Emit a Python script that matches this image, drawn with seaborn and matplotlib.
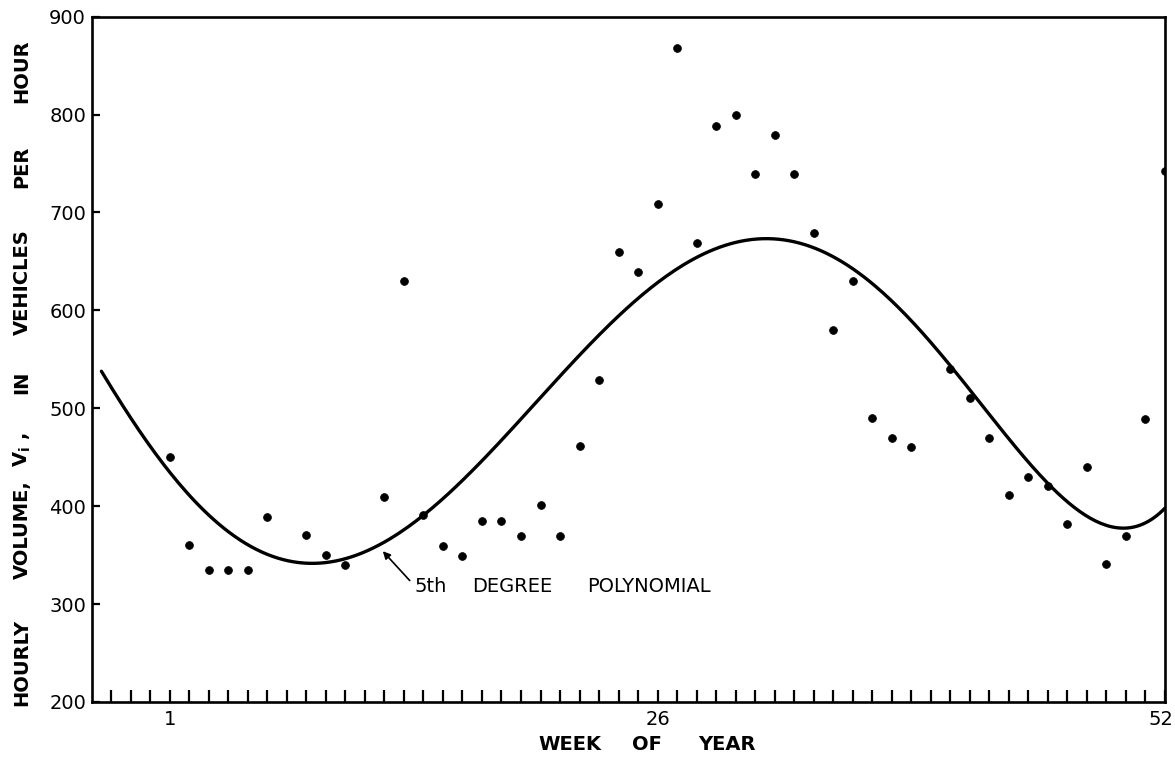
import numpy as np
import pandas as pd
import matplotlib
matplotlib.use("Agg")
import matplotlib.pyplot as plt
import matplotlib.transforms as mtransforms
import seaborn as sns

weeks = [1, 2, 3, 4, 5, 6, 8, 9, 10, 12, 13, 14, 15, 16, 17, 18, 19, 20, 21, 22,
         23, 24, 25, 26, 27, 28, 29, 30, 31, 32, 33, 34, 35, 36, 37, 38, 39, 41,
         42, 43, 44, 45, 46, 47, 48, 49, 50, 51, 52]
volumes = [450, 360, 335, 335, 335, 389, 371, 350, 340, 409, 630, 391, 359, 349,
           385, 385, 370, 401, 370, 461, 529, 660, 639, 709, 868, 669, 788, 800,
           739, 779, 739, 679, 580, 630, 490, 470, 460, 540, 510, 470, 411, 430,
           421, 382, 440, 341, 370, 489, 742]

# ---- points ----
curve_weeks = [-2.5, 1, 2.2, 5.4, 8.5, 9.9, 11.8, 14, 18.6, 21.3, 23.7, 25.8,
               28.9, 31.6, 34.7, 37.9, 41, 44.6, 46, 49.7, 52]
curve_values = [537, 437, 406, 355, 344, 346, 359, 391, 478, 539, 590, 628,
                662, 673, 658, 611, 542, 454, 422, 383, 395]

xtick_weeks = [1, 26, 52]
xtick_labels = ["1", "26", "52"]
ytick_values = [200, 300, 400, 500, 600, 700, 800, 900]

sns.set_theme(style="white")
plt.rcParams["font.family"] = ["DejaVu Sans"]
plt.rcParams["text.color"] = "black"
plt.rcParams["xtick.color"] = "black"
plt.rcParams["ytick.color"] = "black"

df = pd.DataFrame({"week": weeks, "volume": volumes})

poly = np.polynomial.Polynomial.fit(curve_weeks, curve_values, 5)
curve_x = np.linspace(curve_weeks[0], curve_weeks[-1], 400)
curve = pd.DataFrame({"week": curve_x, "volume": poly(curve_x)})

fig = plt.figure(figsize=(11.75, 7.57), dpi=100)
ax = fig.add_axes([0.078, 0.0727, 0.9135, 0.9053])

sns.lineplot(data=curve, x="week", y="volume", ax=ax, color="black", lw=2.4)
sns.scatterplot(data=df, x="week", y="volume", ax=ax, color="black", s=32,
                edgecolor="black", linewidth=0.5, zorder=3)

ax.set_xlim(-3, 52)
ax.set_ylim(200, 900)
ax.set_xticks(xtick_weeks)
ax.set_xticklabels(xtick_labels, fontsize=14)
ax.set_xticks(np.arange(-2, 52), minor=True)
ax.set_yticks(ytick_values)
ax.set_yticklabels([str(v) for v in ytick_values], fontsize=14)
ax.tick_params(axis="x", which="both", direction="in", length=9, width=1.6,
               bottom=True, pad=6, colors="black")
ax.tick_params(axis="y", which="major", direction="in", length=6, width=1.6,
               left=True, pad=4, colors="black")
# last label sits flush with the right edge
lbl52 = ax.get_xticklabels()[-1]
lbl52.set_horizontalalignment("right")
lbl52.set_transform(lbl52.get_transform() +
                    mtransforms.ScaledTranslation(8 / 100, 0, fig.dpi_scale_trans))
for sp in ax.spines.values():
    sp.set_color("black")
    sp.set_linewidth(1.9)
ax.set_xlabel("")
ax.set_ylabel("")
ax.grid(False)

W, H = 1175, 757
for word, px in [("WEEK", 570), ("OF", 647), ("YEAR", 727)]:
    fig.text(px / W, 1 - 745 / H, word, ha="center", va="center",
             fontsize=14, fontweight="bold", color="black")

for word, py in [("HOURLY", 662), ("VOLUME,", 530), ("V$_\\mathregular{i}$ ,", 450),
                 ("IN", 382), ("VEHICLES", 282), ("PER", 167), ("HOUR", 71)]:
    fig.text(22 / W, 1 - py / H, word, ha="center", va="center", rotation=90,
             fontsize=14, fontweight="bold", color="black")

# annotation for the fitted curve
ax.annotate("", xy=(11.92, 354), xytext=(13.3, 324),
            arrowprops=dict(arrowstyle="-|>", color="black", lw=1.2,
                            shrinkA=0, shrinkB=0, mutation_scale=11))
for word, wk in [("5th", 13.56), ("DEGREE", 16.49), ("POLYNOMIAL", 22.38)]:
    ax.text(wk, 317.5, word, ha="left", va="center", fontsize=14, color="black")

fig.savefig("out.png", dpi=100)
